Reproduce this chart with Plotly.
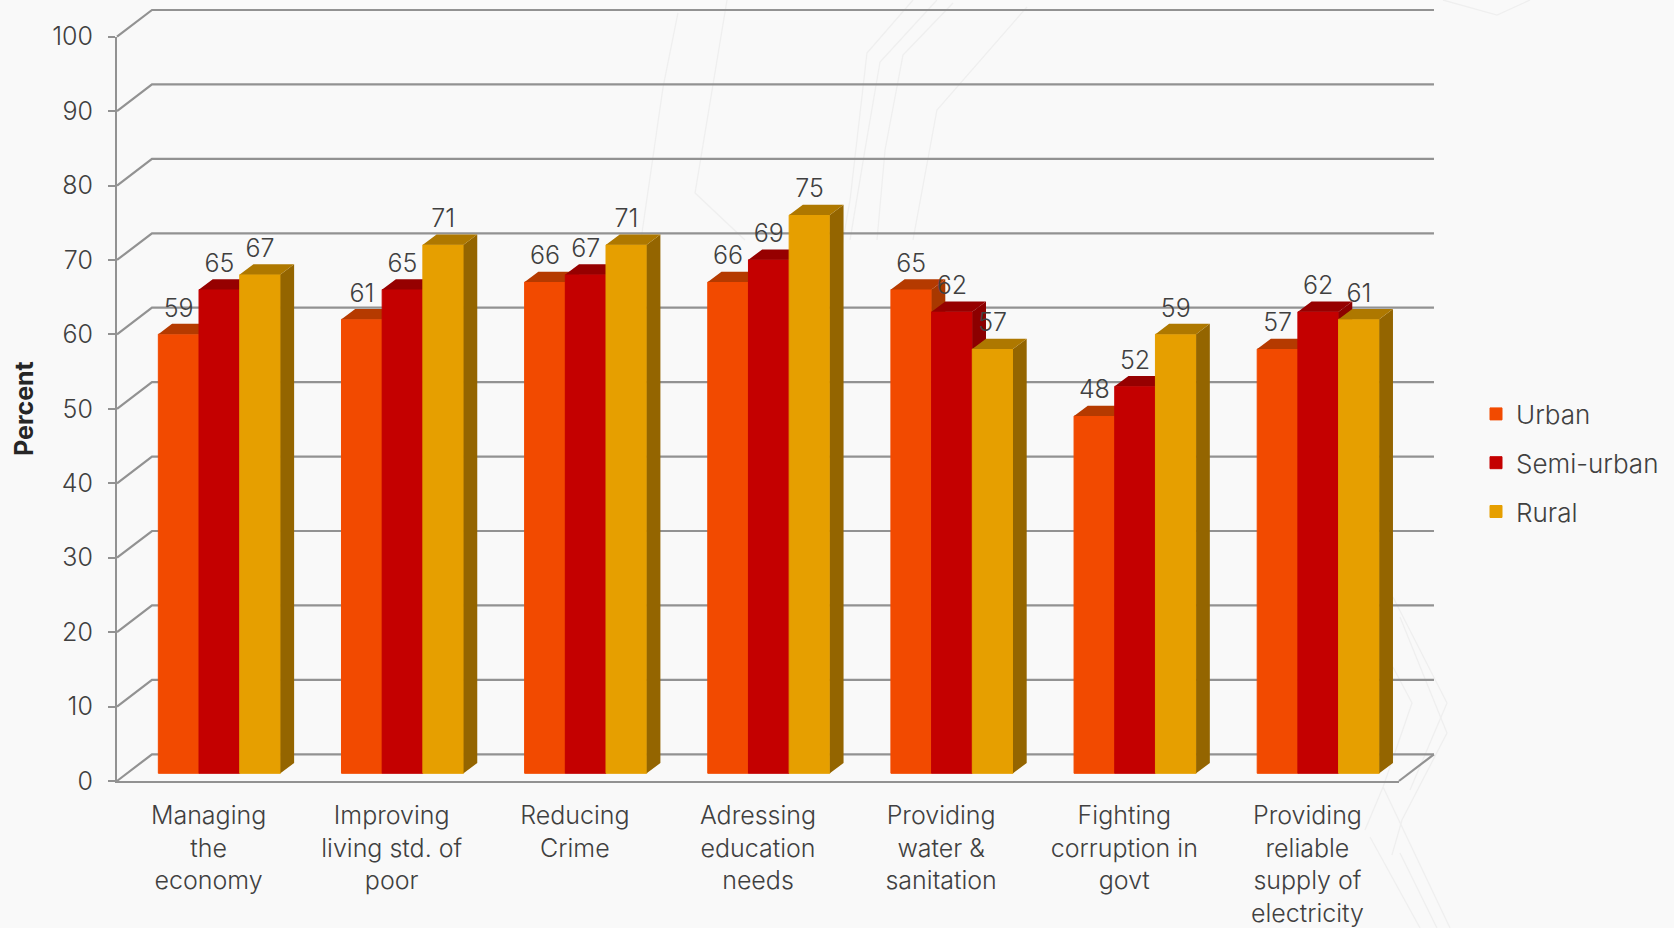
import plotly.graph_objects as go

categories = ["Managing<br>the<br>economy", "Improving<br>living std. of<br>poor", "Reducing<br>Crime",
              "Adressing<br>education<br>needs", "Providing<br>water &<br>sanitation",
              "Fighting<br>corruption in<br>govt", "Providing<br>reliable<br>supply of<br>electricity"]
urban = [59, 61, 66, 66, 65, 48, 57]
semi_urban = [65, 65, 67, 69, 62, 52, 62]
rural = [67, 71, 71, 75, 57, 59, 61]
y_ticks = [0, 10, 20, 30, 40, 50, 60, 70, 80, 90, 100]

series = [
    ("Urban", urban, "#F24A00", "#A83800", "#B53A00"),
    ("Semi-urban", semi_urban, "#C40000", "#8C0000", "#960000"),
    ("Rural", rural, "#E69F00", "#946500", "#AE7800"),
]

# faint slide-background decoration (page pixels)
backdrop = [
    [(678, 13), (663, 87), (642, 233), (620, 300)],
    [(727, 0), (695, 193), (745, 240)],
    [(913, 0), (867, 53), (850, 200), (843, 240), (835, 290)],
    [(937, 0), (880, 62), (865, 150), (850, 240)],
    [(953, 3), (903, 55), (885, 150), (877, 240)],
    [(1027, 7), (937, 110), (913, 240)],
    [(1393, 597), (1447, 703), (1410, 790)],
    [(1400, 617), (1447, 733), (1402, 820), (1392, 855)],
    [(1393, 667), (1412, 703), (1383, 787), (1365, 830)],
    [(1383, 787), (1450, 928)],
    [(1400, 853), (1437, 928)],
    [(1370, 837), (1420, 928)],
    [(1443, 0), (1497, 15), (1530, 0)],
]

W, H = 1674, 928
AX_L, AX_R, AX_T, AX_B = 117, 1399, 36.7, 781
FONT = "Inter, 'Open Sans', sans-serif"
TXT = "#404040"
GRID = "#929292"
# oblique projection, in axis units
WALL_DX, WALL_DY = 0.191, 3.587
FRONT_DX, FRONT_DY = 0.059, 1.034
BAR_DX, BAR_DY = 0.0748, 1.384
BAR_W = 0.2222
GAP = (1 - 3 * BAR_W) / 2
N = len(categories)
PX_X = (AX_R - AX_L) / N
PX_Y = (AX_B - AX_T) / 100

fig = go.Figure()

# wall grid lines and floor, on a full-page hidden axis pair with the same units
gx, gy = [], []
for v in y_ticks:
    gx += [0, WALL_DX, N + WALL_DX, None]
    gy += [v, v + WALL_DY, v + WALL_DY, None]
gx += [N, N + WALL_DX, None]
gy += [0, WALL_DY, None]
fig.add_trace(go.Scatter(x=gx, y=gy, mode="lines", line=dict(color=GRID, width=2.2),
                         showlegend=False, hoverinfo="skip", xaxis="x", yaxis="y"))


def poly(points, color, xa, ya):
    xs, ys = [], []
    for p in points:
        for a, b in p:
            xs.append(a)
            ys.append(b)
        xs.append(None)
        ys.append(None)
    return go.Scatter(x=xs, y=ys, mode="lines", fill="toself", fillcolor=color,
                      line=dict(color=color, width=0), showlegend=False, hoverinfo="skip",
                      cliponaxis=False, xaxis=xa, yaxis=ya)


for s, (name, vals, front, side, top) in enumerate(series):
    xa, ya = f"x{s + 2}", f"y{s + 2}"
    lefts = [i + GAP + FRONT_DX + s * BAR_W for i in range(N)]
    fig.add_trace(go.Bar(x=[l + BAR_W / 2 for l in lefts], y=vals, base=FRONT_DY, width=BAR_W, name=name,
                         marker=dict(color=front, line=dict(color=front, width=1)),
                         legendgroup=name, cliponaxis=False, hoverinfo="skip", xaxis=xa, yaxis=ya))
    sides, tops = [], []
    for l, v in zip(lefts, vals):
        r = l + BAR_W
        t = v + FRONT_DY
        sides.append([(r, FRONT_DY), (r + BAR_DX, FRONT_DY + BAR_DY), (r + BAR_DX, t + BAR_DY), (r, t)])
        tops.append([(l, t), (l + BAR_DX, t + BAR_DY), (r + BAR_DX, t + BAR_DY), (r, t)])
    fig.add_trace(poly(sides, side, xa, ya))
    fig.add_trace(poly(tops, top, xa, ya))

# value labels, above everything
for s, (name, vals, *_rest) in enumerate(series):
    fig.add_trace(go.Scatter(
        x=[i + GAP + FRONT_DX + (s + 0.5) * BAR_W for i in range(N)],
        y=[v + FRONT_DY + 3.2 for v in vals],
        text=[str(v) for v in vals], mode="text", textposition="middle center",
        textfont=dict(family=FONT, size=25, color=TXT, weight=300), showlegend=False, hoverinfo="skip",
        cliponaxis=False, xaxis="x4", yaxis="y4"))

xdom = [AX_L / W, AX_R / W]
ydom = [(H - AX_B) / H, (H - AX_T) / H]
shapes = []
for path in backdrop:
    d = "M" + " L".join(f"{x / W:.4f},{(H - y) / H:.4f}" for x, y in path)
    shapes.append(dict(type="path", path=d, xref="paper", yref="paper", layer="below",
                       line=dict(color="#EFEFEF", width=1.3)))
layout = dict(
    width=W, height=H, margin=dict(l=0, r=0, t=0, b=0, autoexpand=False), autosize=False,
    paper_bgcolor="#F9F9F9", plot_bgcolor="rgba(0,0,0,0)", barmode="overlay",
    font=dict(family=FONT, color=TXT, size=24), shapes=shapes,
    xaxis=dict(domain=[0, 1], range=[-AX_L / PX_X, (W - AX_L) / PX_X], visible=False),
    yaxis=dict(domain=[0, 1], range=[-(H - AX_B) / PX_Y, AX_B / PX_Y], visible=False),
    xaxis2=dict(domain=xdom, range=[0, N], anchor="y2", tickmode="array", tickvals=[i + 0.5 for i in range(N)],
                ticktext=categories, ticks="", showgrid=False, zeroline=False, showline=True,
                linecolor=GRID, linewidth=2.2, tickfont=dict(family=FONT, size=25, color=TXT, weight=300),
                ticklabelstandoff=11),
    yaxis2=dict(domain=ydom, range=[0, 100], anchor="x2", tickmode="array", tickvals=y_ticks, ticks="outside",
                ticklen=7, tickwidth=2, tickcolor=GRID, showgrid=False, zeroline=False, showline=True,
                linecolor=GRID, linewidth=2.2, tickfont=dict(family=FONT, size=25, color=TXT, weight=300),
                ticklabelstandoff=10),
    legend=dict(x=1476 / W, xanchor="left", y=(H - 463) / H, yanchor="middle",
                tracegroupgap=12, bgcolor="rgba(0,0,0,0)", font=dict(family=FONT, size=26, color=TXT, weight=300)),
    annotations=[dict(text="<b>Percent</b>", x=24 / W, y=(H - 409) / H, xref="paper", yref="paper",
                      xanchor="center", yanchor="middle", showarrow=False, textangle=-90,
                      font=dict(family=FONT, size=25, color="#262626"))],
)
for n in (3, 4):
    layout[f"xaxis{n}"] = dict(domain=xdom, range=[0, N], overlaying="x2", visible=False, anchor=f"y{n}")
    layout[f"yaxis{n}"] = dict(domain=ydom, range=[0, 100], overlaying="y2", visible=False, anchor=f"x{n}")
fig.update_layout(**layout)

fig.write_html("out.html", config=dict(displayModeBar=False), post_script="document.body.style.margin='0';")
